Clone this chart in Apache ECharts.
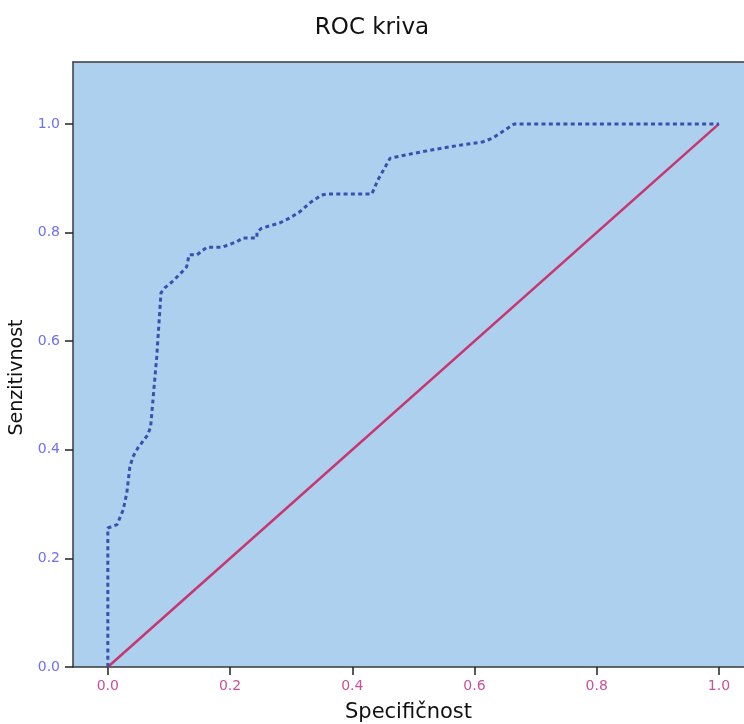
<!DOCTYPE html>
<html>
<head>
<meta charset="utf-8">
<script src="https://cdn.jsdelivr.net/npm/echarts@6/dist/echarts.min.js"></script>
<style>
  html, body { margin: 0; padding: 0; background: #ffffff; }
  #chart { width: 744px; height: 724px; }
</style>
</head>
<body>
<div id="chart"></div>
<script>
// ROC curve points: false-positive rate (x) and sensitivity (y)
const rocX = [0, 0, 0.003, 0.015, 0.025, 0.031, 0.036, 0.041, 0.049, 0.065, 0.070, 0.072, 0.080, 0.087, 0.093, 0.105,
  0.121, 0.129, 0.133, 0.146, 0.162, 0.187, 0.211, 0.221, 0.244, 0.244, 0.252, 0.282, 0.298, 0.314, 0.331,
  0.350, 0.360, 0.432, 0.442, 0.462, 0.506, 0.560, 0.614, 0.630, 0.642, 0.665, 1.0];
const rocY = [0, 0.256, 0.256, 0.262, 0.289, 0.320, 0.368, 0.387, 0.403, 0.427, 0.442, 0.468, 0.571, 0.689, 0.698, 0.709,
  0.727, 0.737, 0.759, 0.759, 0.773, 0.773, 0.783, 0.790, 0.790, 0.801, 0.808, 0.818, 0.827, 0.838, 0.855,
  0.869, 0.871, 0.871, 0.897, 0.937, 0.947, 0.958, 0.967, 0.974, 0.983, 1.0, 1.0];

// Reference (chance) diagonal
const refX = [0, 1];
const refY = [0, 1];

// Tick values shown on both axes
const tickValues = [0, 0.2, 0.4, 0.6, 0.8, 1.0];

const zip = (xs, ys) => xs.map((x, i) => [x, ys[i]]);

const chart = echarts.init(document.getElementById('chart'), null, { renderer: 'canvas' });

const baseFont = 'DejaVu Sans';

chart.setOption({
  animation: false,
  backgroundColor: '#ffffff',
  title: {
    text: 'ROC kriva',
    left: 'center',
    top: 12,
    textStyle: { fontFamily: baseFont, fontSize: 23, fontWeight: 'normal', color: '#111111' }
  },
  grid: {
    left: 73, right: 0, top: 62, bottom: 57,
    containLabel: false,
    outerBoundsMode: 'none',
    show: true,
    backgroundColor: '#acd0ee',
    borderWidth: 0
  },
  xAxis: [{
    type: 'value',
    min: -0.057,
    max: 1.041,
    name: 'Specifičnost',
    nameLocation: 'middle',
    nameGap: 35,
    nameTextStyle: { fontFamily: baseFont, fontSize: 21, color: '#111111' },
    axisLine: { show: true, onZero: false, lineStyle: { color: '#3a3a3a', width: 1.5 } },
    axisTick: { show: true, length: 8, customValues: tickValues, lineStyle: { color: '#222222', width: 1.5 } },
    axisLabel: {
      customValues: tickValues,
      margin: 12,
      fontFamily: baseFont, fontSize: 14, color: '#c9509a',
      formatter: v => v.toFixed(1)
    },
    splitLine: { show: false }
  }, {
    type: 'value',
    position: 'top',
    min: -0.057,
    max: 1.041,
    axisLine: { show: true, onZero: false, lineStyle: { color: '#3a3a3a', width: 1.5 } },
    axisTick: { show: false },
    axisLabel: { show: false },
    splitLine: { show: false }
  }],
  yAxis: {
    type: 'value',
    min: 0,
    max: 1.114,
    name: 'Senzitivnost',
    nameLocation: 'middle',
    nameGap: 42,
    nameTextStyle: { fontFamily: baseFont, fontSize: 19, color: '#111111', padding: [0, 26, 0, 0] },
    axisLine: { show: true, onZero: false, lineStyle: { color: '#3a3a3a', width: 1.5 } },
    axisTick: { show: true, length: 8, customValues: tickValues, lineStyle: { color: '#222222', width: 1.5 } },
    axisLabel: {
      customValues: tickValues,
      margin: 13,
      fontFamily: baseFont, fontSize: 14, color: '#6f6ff2',
      formatter: v => v.toFixed(1)
    },
    splitLine: { show: false }
  },
  series: [{
    name: 'Referentna linija',
    type: 'line',
    data: zip(refX, refY),
    showSymbol: false,
    lineStyle: { color: '#c8356f', width: 2.5 },
    z: 2
  }, {
    name: 'ROC',
    type: 'line',
    data: zip(rocX, rocY),
    showSymbol: false,
    lineStyle: { color: '#3a4fae', width: 3, type: [4, 3.3] },
    z: 3
  }]
});
</script>
</body>
</html>
